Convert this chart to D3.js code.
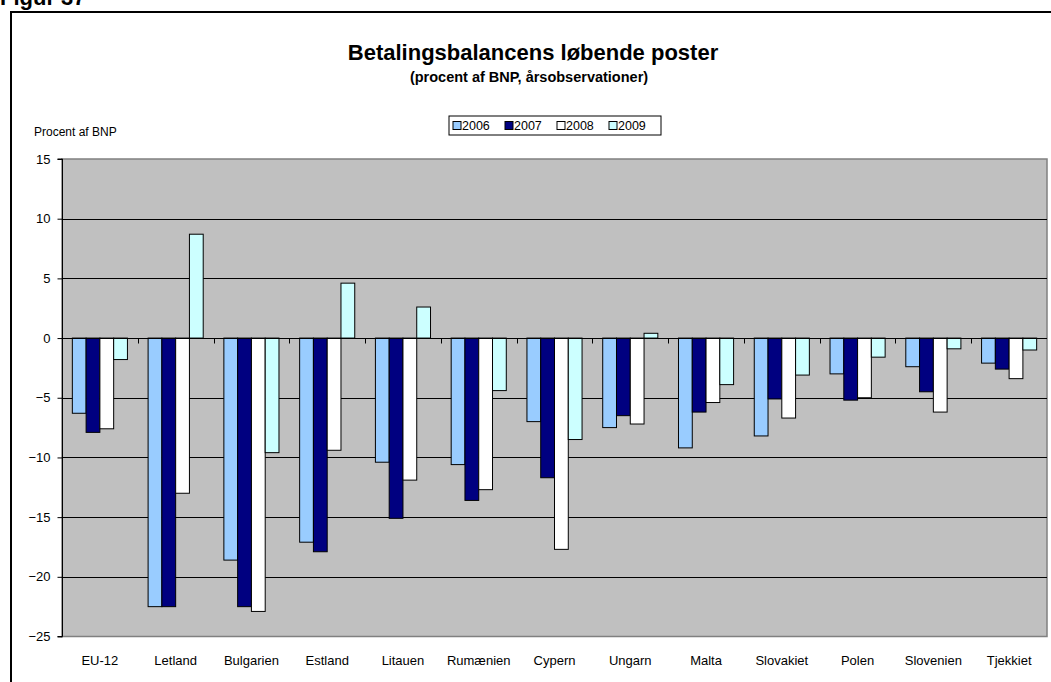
<!DOCTYPE html>
<html>
<head>
<meta charset="utf-8">
<script src="https://cdn.jsdelivr.net/npm/d3@7"></script>
<style>
  html, body { margin: 0; padding: 0; background: #fff; }
  svg { display: block; font-family: "Liberation Sans", Arial, sans-serif; }
</style>
</head>
<body>
<svg id="chart" width="1051" height="682"></svg>
<script>
// Current account balance, percent of GDP
const countries = ["EU-12", "Letland", "Bulgarien", "Estland", "Litauen", "Rumænien",
  "Cypern", "Ungarn", "Malta", "Slovakiet", "Polen", "Slovenien", "Tjekkiet"];
const years = ["2006", "2007", "2008", "2009"];
const v2006 = [-6.3, -22.5, -18.6, -17.1, -10.4, -10.6, -7.0, -7.5, -9.2, -8.2, -3.0, -2.4, -2.1];
const v2007 = [-7.9, -22.5, -22.5, -17.9, -15.1, -13.6, -11.7, -6.5, -6.2, -5.1, -5.2, -4.5, -2.6];
const v2008 = [-7.6, -13.0, -22.9, -9.4, -11.9, -12.7, -17.7, -7.2, -5.4, -6.7, -5.0, -6.2, -3.4];
const v2009 = [-1.8, 8.7, -9.6, 4.6, 2.6, -4.4, -8.5, 0.4, -3.9, -3.1, -1.6, -0.9, -1.0];
const yTicks = [15, 10, 5, 0, -5, -10, -15, -20, -25];
const seriesValues = [v2006, v2007, v2008, v2009];
const colors = ["#99CCFF", "#000080", "#FFFFFF", "#CCFFFF"];

const svg = d3.select("#chart");

// Outer figure frame and caption
svg.append("text").attr("x", 0).attr("y", 5)
  .attr("font-size", 22).attr("font-weight", "bold").text("Figur 37");
svg.append("path")
  .attr("d", "M11,690 L11,12 L1060,12")
  .attr("fill", "none").attr("stroke", "#000").attr("stroke-width", 2);

// Titles
svg.append("text").attr("x", 533).attr("y", 60).attr("text-anchor", "middle")
  .attr("font-size", 22).attr("font-weight", "bold").text("Betalingsbalancens løbende poster");
svg.append("text").attr("x", 529).attr("y", 82).attr("text-anchor", "middle")
  .attr("font-size", 14.5).attr("font-weight", "bold").text("(procent af BNP, årsobservationer)");

svg.append("text").attr("x", 34).attr("y", 136)
  .attr("font-size", 12).text("Procent af BNP");

// Plot area
const plotLeft = 62, plotRight = 1047, plotTop = 159, plotBottom = 636.5;

const x0 = d3.scaleBand().domain(countries).range([plotLeft, plotRight]).paddingInner(0).paddingOuter(0);
const x1 = d3.scaleBand().domain(years).range([0, x0.bandwidth()])
  .paddingInner(0).paddingOuter(0.75);
const y = d3.scaleLinear().domain([-25, 15]).range([plotBottom, plotTop]);

svg.append("rect").attr("x", plotLeft).attr("y", plotTop)
  .attr("width", plotRight - plotLeft).attr("height", plotBottom - plotTop)
  .attr("fill", "#C0C0C0").attr("stroke", "#808080").attr("stroke-width", 1.5);

// Horizontal gridlines
svg.append("g").selectAll("line").data(yTicks.filter(t => t !== 15 && t !== -25)).join("line")
  .attr("x1", plotLeft).attr("x2", plotRight)
  .attr("y1", d => Math.round(y(d)) + 0.5).attr("y2", d => Math.round(y(d)) + 0.5)
  .attr("stroke", "#000").attr("stroke-width", 1);

// Bars
const groups = svg.append("g").selectAll("g").data(countries).join("g")
  .attr("transform", d => `translate(${x0(d)},0)`);
groups.selectAll("rect")
  .data((c, i) => years.map((yr, k) => ({ yr, k, v: seriesValues[k][i] })))
  .join("rect")
  .attr("x", d => x1(d.yr))
  .attr("width", x1.bandwidth())
  .attr("y", d => Math.min(y(d.v), y(0)))
  .attr("height", d => Math.abs(y(d.v) - y(0)))
  .attr("fill", d => colors[d.k])
  .attr("stroke", "#000").attr("stroke-width", 1);

// Category axis along zero
const zeroY = Math.round(y(0)) + 0.5;
svg.append("line").attr("x1", plotLeft).attr("x2", plotRight)
  .attr("y1", zeroY).attr("y2", zeroY).attr("stroke", "#000").attr("stroke-width", 1);
svg.append("g").selectAll("line").data(countries.slice(1)).join("line")
  .attr("x1", d => Math.round(x0(d)) + 0.5).attr("x2", d => Math.round(x0(d)) + 0.5)
  .attr("y1", zeroY).attr("y2", zeroY + 5)
  .attr("stroke", "#000");

// Category labels
svg.append("g").selectAll("text").data(countries).join("text")
  .attr("x", d => x0(d) + x0.bandwidth() / 2)
  .attr("y", 665)
  .attr("text-anchor", "middle").attr("font-size", 13).text(d => d);

// Value axis
const yAxis = d3.axisLeft(y).tickValues(yTicks).tickSize(5).tickPadding(7)
  .tickFormat(d3.format("d"));
const ga = svg.append("g").attr("transform", `translate(${plotLeft + 0.5},0)`).call(yAxis);
ga.select(".domain").attr("stroke", "#000").attr("d", `M-5,${plotTop}H0V${plotBottom}H-5`);
ga.selectAll("text").attr("font-size", 13).attr("fill", "#000")
  .attr("font-family", "'Liberation Sans', Arial, sans-serif");
ga.selectAll("line").attr("stroke", "#000");

// Legend
const lg = svg.append("g").attr("transform", "translate(449,116)");
lg.append("rect").attr("width", 212).attr("height", 19)
  .attr("fill", "#fff").attr("stroke", "#000").attr("stroke-width", 1);
const items = lg.selectAll("g").data(years).join("g")
  .attr("transform", (d, i) => `translate(${4 + i * 52},0)`);
items.append("rect").attr("x", 0).attr("y", 5.5).attr("width", 8).attr("height", 8)
  .attr("fill", (d, i) => colors[i]).attr("stroke", "#000");
items.append("text").attr("x", 9).attr("y", 14).attr("font-size", 12.5).text(d => d);
</script>
</body>
</html>
